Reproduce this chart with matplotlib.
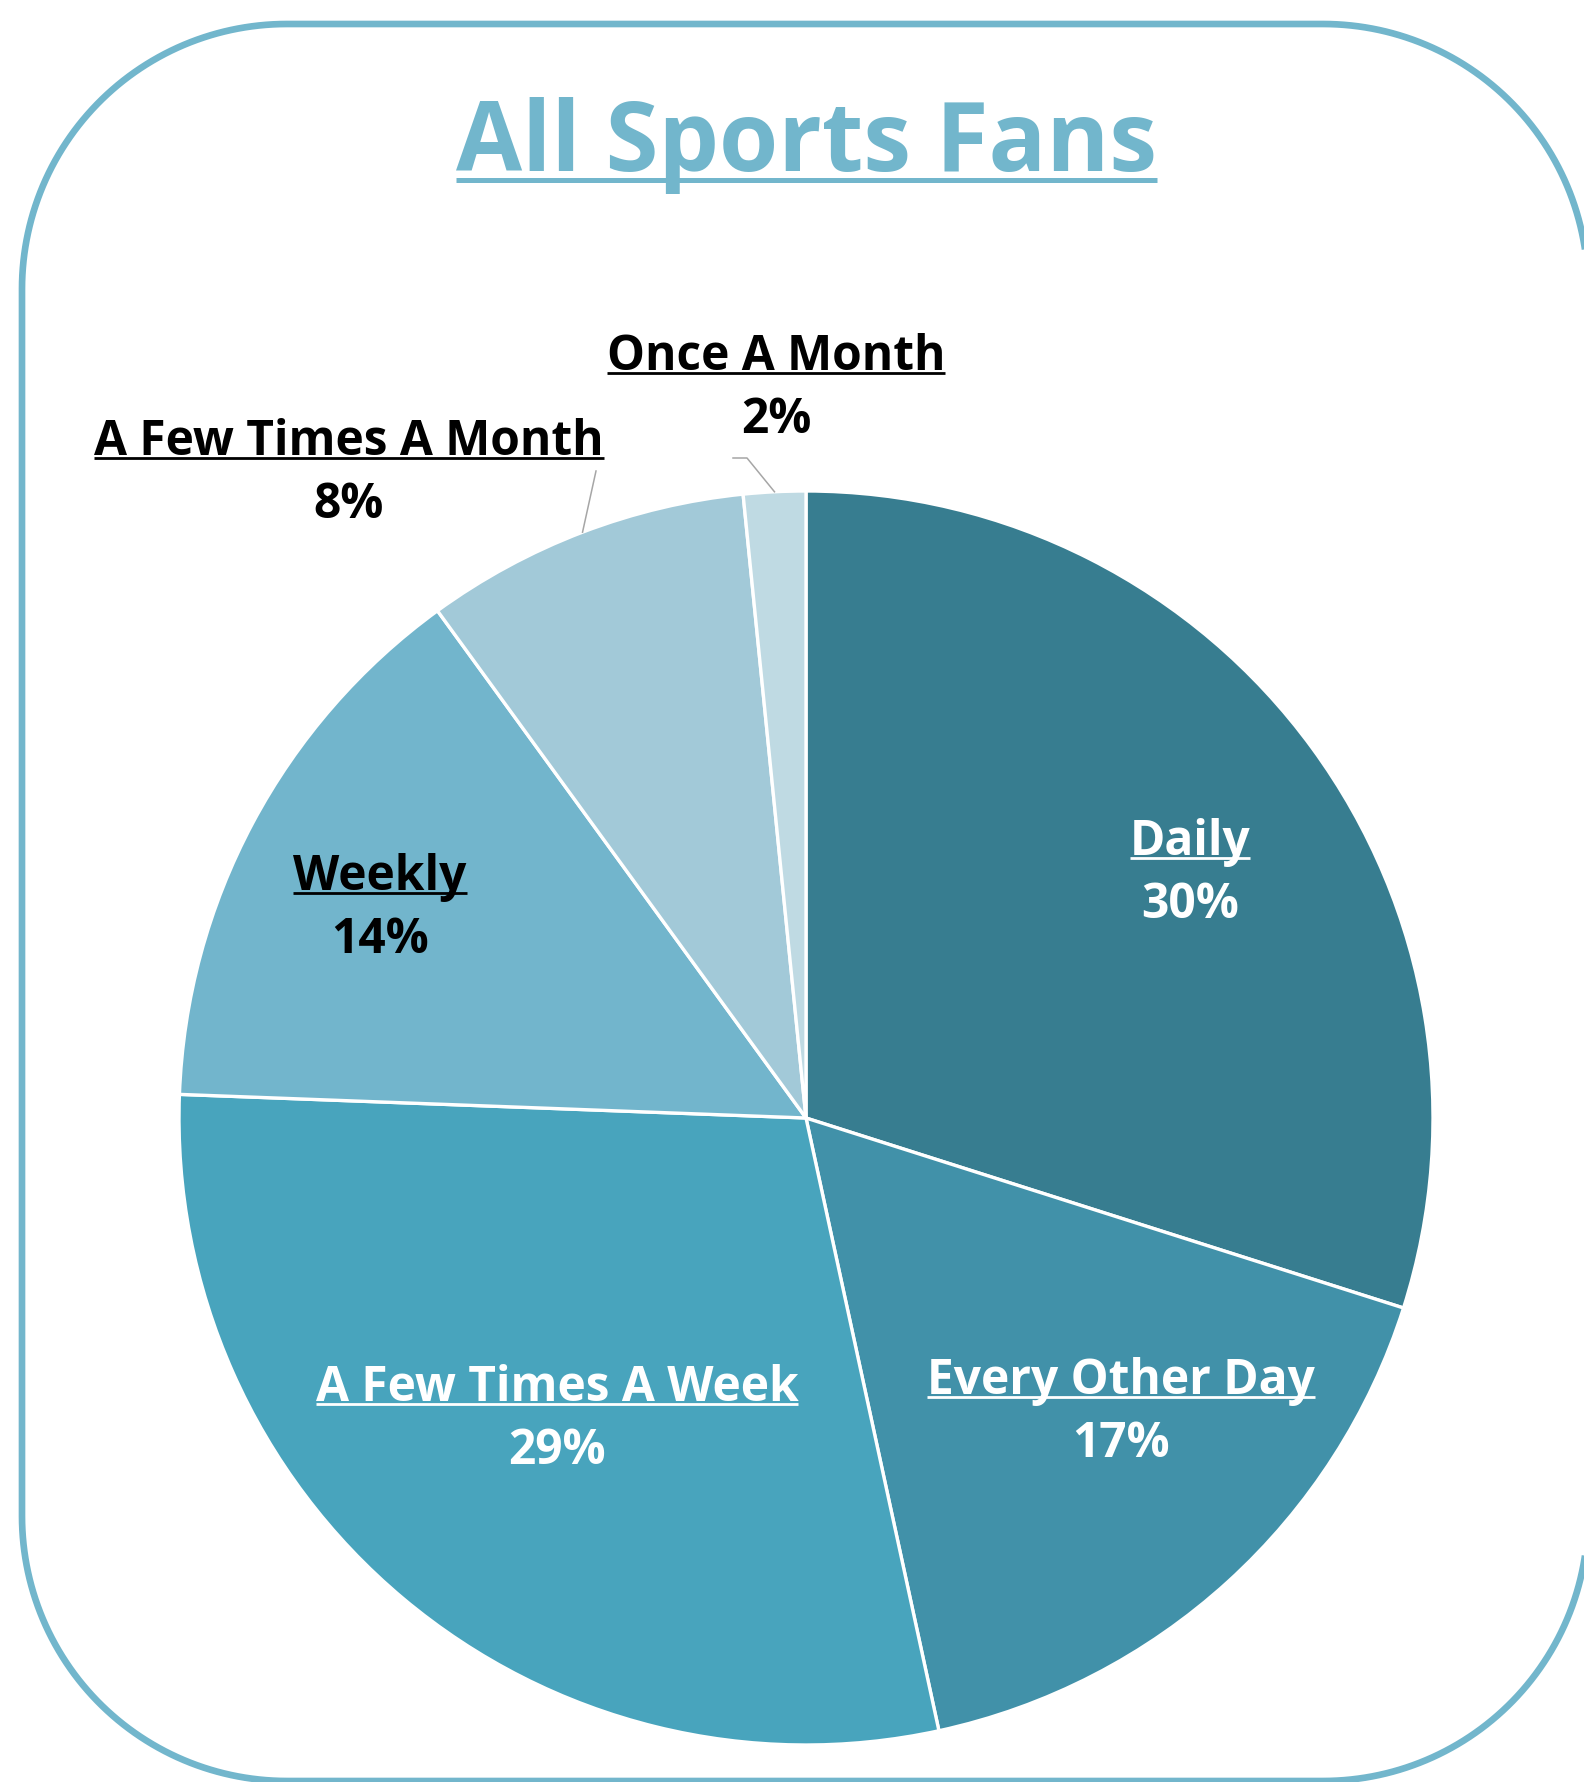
import matplotlib.pyplot as plt
from matplotlib.patches import Polygon
import numpy as np

plt.rcParams['font.family'] = ['Open Sans', 'DejaVu Sans']

# data (shares in %)
categories = ["Daily", "Every Other Day", "A Few Times A Week", "Weekly",
              "A Few Times A Month", "Once A Month"]
shares = [29.9, 16.7, 29.0, 14.4, 8.4, 1.6]
pct_labels = ["30%", "17%", "29%", "14%", "8%", "2%"]

colors = ["#377d90", "#4191a9", "#48a4bd", "#72b5cc", "#a2c9d8", "#bfdae3"]
text_colors = ["white", "white", "white", "black", "black", "black"]
accent = "#72b6cc"

W, H = 1584, 1783
fig = plt.figure(figsize=(W / 100, H / 100), dpi=100)
ax = fig.add_axes([0, 0, 1, 1])

center = (806, H - 1119)
radius = 627
wedges, _ = ax.pie(shares, colors=colors, startangle=90, counterclock=False,
                   center=center, radius=radius,
                   wedgeprops=dict(edgecolor="white", linewidth=2.4))
ax.set_xlim(0, W)
ax.set_ylim(0, H)
ax.set_aspect("equal")
ax.axis("off")


# rounded frame (sampled arcs, runs off the right/bottom edge like the original)
def rounded_rect(x0, y0, x1, y1, r, n=60):
    pts = []
    corners = [(x1 - r, y1 - r, 0), (x0 + r, y1 - r, 90),
               (x0 + r, y0 + r, 180), (x1 - r, y0 + r, 270)]
    for cx, cy, a0 in corners:
        a = np.deg2rad(np.linspace(a0, a0 + 90, n))
        pts += list(zip(cx + r * np.cos(a), cy + r * np.sin(a)))
    return pts


frame = Polygon(rounded_rect(22, H - 1782, 1588, H - 25, 265), closed=True,
                fill=False, edgecolor=accent, linewidth=4.8)
ax.add_patch(frame)

# title
title = ax.text(806, H - 171, "All Sports Fans", ha="center", va="baseline",
                fontsize=69, fontweight="bold", color=accent)

# label layout: (x center, baseline of name line) in image px from top
label_pos = [(1190, 855), (1121, 1394), (557, 1401), (380, 890), (349, 455), (776, 370)]
line_gap = 63

name_texts = []
for name, pct, tc, (lx, ly) in zip(categories, pct_labels, text_colors, label_pos):
    t = ax.text(lx, H - ly, name, ha="center", va="baseline", fontsize=34.5,
                fontweight="bold", color=tc)
    ax.text(lx, H - ly - line_gap, pct, ha="center", va="baseline", fontsize=34.5,
            fontweight="bold", color=tc)
    name_texts.append((t, H - ly, tc))

# leader lines for the two small slices
leader_ends = {4: [(596, 472)], 5: [(747, 459), (733, 459)]}
for i, pts in leader_ends.items():
    w = wedges[i]
    mid = np.deg2rad((w.theta1 + w.theta2) / 2)
    xs = [center[0] + radius * np.cos(mid)] + [p[0] for p in pts]
    ys = [center[1] + radius * np.sin(mid)] + [H - p[1] for p in pts]
    ax.plot(xs, ys, color="#a6a6a6", linewidth=1.1)

# underlines
fig.canvas.draw()
bb = title.get_window_extent()
ax.plot([bb.x0, bb.x1], [H - 180.5] * 2, color=accent, linewidth=3.6,
        solid_capstyle="butt")
for t, base, tc in name_texts:
    bb = t.get_window_extent()
    ax.plot([bb.x0, bb.x1], [base - 4] * 2, color=tc, linewidth=2,
            solid_capstyle="butt")

fig.savefig("out.png", dpi=100)
